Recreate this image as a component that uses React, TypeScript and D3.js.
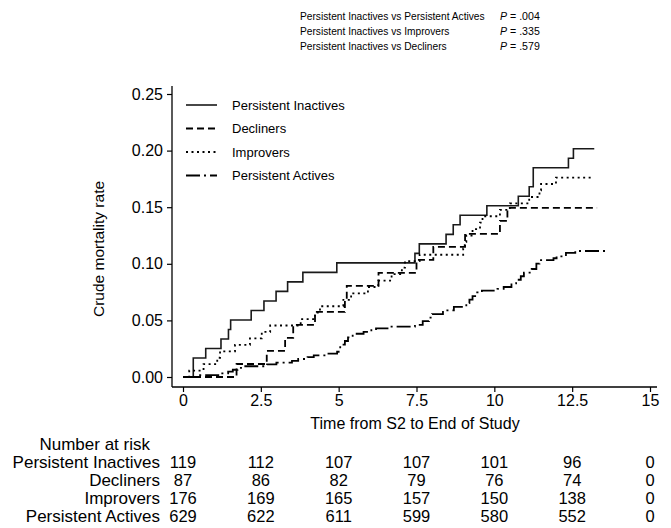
import React, { useRef, useEffect } from "react";
import * as d3 from "d3";

// step points [time, crude mortality]
const inactives: [number, number][] = [
  [0, 0], [0.33, 0.0168], [0.73, 0.0252], [1.22, 0.0336], [1.46, 0.042], [1.53, 0.0504],
  [2.19, 0.0588], [2.6, 0.0672], [2.99, 0.0756], [3.36, 0.084], [3.85, 0.0924], [4.94, 0.1008],
  [7.45, 0.1092], [7.59, 0.1176], [8.45, 0.126], [8.68, 0.1345], [8.9, 0.1429], [9.76, 0.1513],
  [10.77, 0.1597], [11.12, 0.1681], [11.25, 0.1849], [12.38, 0.1933], [12.54, 0.2017], [13.21, 0.2017],
];
const decliners: [number, number][] = [
  [0, 0], [1.72, 0.0115], [2.69, 0.023], [3.28, 0.0345], [3.54, 0.046], [4.24, 0.0575],
  [5.2, 0.069], [5.26, 0.0805], [6.28, 0.092], [7.5, 0.1034], [8.04, 0.1149], [9.06, 0.1264],
  [10.18, 0.1379], [10.42, 0.1494], [13.3, 0.1494],
];
const improvers: [number, number][] = [
  [0, 0], [0.2, 0.0057], [0.66, 0.0114], [1.1, 0.017], [1.19, 0.0227], [1.67, 0.0284],
  [2.15, 0.0341], [2.53, 0.0398], [2.8, 0.0455], [3.78, 0.0511], [4.24, 0.0568], [4.4, 0.0625],
  [5.15, 0.0682], [5.4, 0.0739], [5.94, 0.0795], [6.27, 0.0852], [6.7, 0.0909], [7.03, 0.0966],
  [7.13, 0.1023], [7.6, 0.108], [9.0, 0.1136], [9.05, 0.1193], [9.1, 0.125], [9.3, 0.1307],
  [9.54, 0.1364], [9.62, 0.142], [10.18, 0.1477], [10.5, 0.1534], [11.12, 0.159], [11.45, 0.1648],
  [11.5, 0.1705], [11.98, 0.1761], [13.2, 0.1761],
];
const actives: [number, number][] = [
  [0, 0], [0.5, 0.0016], [1.2, 0.0032], [1.45, 0.0048], [1.6, 0.0064], [1.75, 0.008], [2.0, 0.0095],
  [2.7, 0.0111], [3.0, 0.0127], [3.5, 0.0143], [3.7, 0.0159], [4.0, 0.0175], [4.2, 0.0191],
  [4.6, 0.0207], [4.95, 0.0223], [5.0, 0.0254], [5.05, 0.0286], [5.2, 0.0318], [5.3, 0.035],
  [5.45, 0.0382], [5.8, 0.0398], [6.05, 0.0413], [6.2, 0.0429], [6.6, 0.0445], [7.45, 0.0461],
  [7.7, 0.0493], [7.9, 0.0525], [8.0, 0.0556], [8.35, 0.0588], [8.7, 0.062], [9.1, 0.0652],
  [9.2, 0.0684], [9.3, 0.0715], [9.45, 0.0747], [9.6, 0.0763], [10.1, 0.0779], [10.3, 0.0795],
  [10.55, 0.0827], [10.7, 0.0859], [10.85, 0.089], [10.95, 0.0922], [11.2, 0.0954], [11.35, 0.1002],
  [11.45, 0.1033], [11.9, 0.1049], [12.0, 0.1065], [12.3, 0.1097], [12.6, 0.1113], [13.6, 0.1113],
];

const groups = ["Persistent Inactives", "Decliners", "Improvers", "Persistent Actives"];
const xTicks = [0, 2.5, 5, 7.5, 10, 12.5, 15];
const yTicks = [0, 0.05, 0.1, 0.15, 0.2, 0.25];

const riskTimes = [0, 2.5, 5, 7.5, 10, 12.5, 15];
const riskInactives = [119, 112, 107, 107, 101, 96, 0];
const riskDecliners = [87, 86, 82, 79, 76, 74, 0];
const riskImprovers = [176, 169, 165, 157, 150, 138, 0];
const riskActives = [629, 622, 611, 599, 580, 552, 0];

const pLabels = [
  "Persistent Inactives vs Persistent Actives",
  "Persistent Inactives vs Improvers",
  "Persistent Inactives vs Decliners",
];
const pValues = [".004", ".335", ".579"];

const width = 671;
const height = 528;
const font = "'Liberation Sans', Arial, sans-serif";

function App() {
  const svgRef = useRef<SVGSVGElement>(null);

  useEffect(() => {
    const svg = d3.select(svgRef.current);
    svg.selectAll("*").remove();

    const left = 172, right = 657, top = 86, bottom = 387;

    const x = d3.scaleLinear().domain([0, 15]).range([183, 650]);
    const y = d3.scaleLinear().domain([0, 0.25]).range([377, 94]);

    const styles = [
      { color: "#1a1a1a", w: 1.6, dash: null },
      { color: "#000", w: 1.8, dash: "7,4" },
      { color: "#000", w: 1.8, dash: "2,3.5" },
      { color: "#000", w: 1.8, dash: "14,4,2,4" },
    ];
    const series = [inactives, decliners, improvers, actives];

    // axes
    svg.append("line").attr("x1", left).attr("x2", left).attr("y1", top).attr("y2", bottom)
      .attr("stroke", "#000").attr("stroke-width", 1.3);
    svg.append("line").attr("x1", left).attr("x2", right).attr("y1", bottom).attr("y2", bottom)
      .attr("stroke", "#000").attr("stroke-width", 1.3);

    const yAxis = svg.append("g")
      .attr("transform", `translate(${left},0)`)
      .call(d3.axisLeft(y).tickValues(yTicks).tickFormat(d3.format(".2f")).tickSize(5).tickPadding(4));
    yAxis.select(".domain").remove();

    const xAxis = svg.append("g")
      .attr("transform", `translate(0,${bottom})`)
      .call(d3.axisBottom(x).tickValues(xTicks).tickFormat((d) => String(d)).tickSize(5).tickPadding(3));
    xAxis.select(".domain").remove();

    svg.selectAll(".tick line").attr("stroke", "#000").attr("stroke-width", 1.2);
    svg.selectAll(".tick text").style("font-family", font).style("font-size", "16px").attr("fill", "#000");

    svg.append("text")
      .attr("transform", `translate(104,249) rotate(-90)`)
      .attr("text-anchor", "middle")
      .style("font-family", font).style("font-size", "15.5px")
      .text("Crude mortality rate");

    svg.append("text")
      .attr("x", 415).attr("y", 429)
      .attr("text-anchor", "middle")
      .style("font-family", font).style("font-size", "16px")
      .text("Time from S2 to End of Study");

    // curves
    const line = d3.line<[number, number]>()
      .x((d) => x(d[0]))
      .y((d) => y(d[1]))
      .curve(d3.curveStepAfter);

    series.forEach((s, i) => {
      svg.append("path")
        .datum(s)
        .attr("d", line)
        .attr("fill", "none")
        .attr("stroke", styles[i].color)
        .attr("stroke-width", styles[i].w)
        .attr("stroke-dasharray", styles[i].dash);
    });

    // legend
    const leg = svg.append("g").attr("transform", "translate(186,105)");
    groups.forEach((g, i) => {
      const row = leg.append("g").attr("transform", `translate(0,${i * 23.5})`);
      row.append("line").attr("x1", 0).attr("x2", 31).attr("y1", 0).attr("y2", 0)
        .attr("stroke", styles[i].color).attr("stroke-width", styles[i].w)
        .attr("stroke-dasharray", styles[i].dash);
      row.append("text").attr("x", 46).attr("y", 0).attr("dy", "0.35em")
        .style("font-family", font).style("font-size", "13px")
        .text(g);
    });

    // p-values
    pLabels.forEach((p, i) => {
      svg.append("text").attr("x", 300).attr("y", 20 + i * 15)
        .style("font-family", font).style("font-size", "10.2px")
        .text(p);
      const t = svg.append("text").attr("x", 500).attr("y", 20 + i * 15)
        .style("font-family", font).style("font-size", "10.6px");
      t.append("tspan").style("font-style", "italic").text("P");
      t.append("tspan").text(` = ${pValues[i]}`);
    });

    // number at risk table
    const rows = [riskInactives, riskDecliners, riskImprovers, riskActives];
    svg.append("text").attr("x", 150).attr("y", 450)
      .attr("text-anchor", "end")
      .style("font-family", font).style("font-size", "17px")
      .text("Number at risk");
    rows.forEach((r, i) => {
      const ty = 468 + i * 18;
      svg.append("text").attr("x", 160).attr("y", ty)
        .attr("text-anchor", "end")
        .style("font-family", font).style("font-size", "17px")
        .text(groups[i]);
      r.forEach((v, j) => {
        svg.append("text").attr("x", x(riskTimes[j])).attr("y", ty)
          .attr("text-anchor", "middle")
          .style("font-family", font).style("font-size", "16.5px")
          .text(v);
      });
    });
  }, []);

  return (
    <div style={{ position: "absolute", left: 0, top: 0 }}>
      <svg ref={svgRef} width={width} height={height} style={{ display: "block", background: "#fff" }}></svg>
    </div>
  );
}

export default App;
